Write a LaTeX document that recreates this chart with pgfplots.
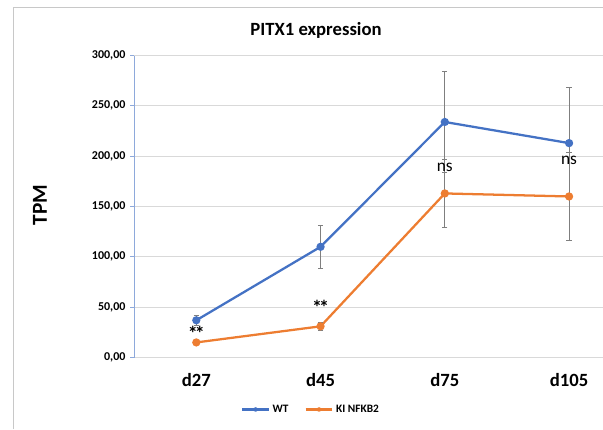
\documentclass[border=0pt]{standalone}
\usepackage{pgfplots}
\pgfplotsset{compat=1.18}
\usepackage{fontspec}
\setmainfont{Carlito}
\definecolor{wtblue}{HTML}{4472C4}
\definecolor{kiorange}{HTML}{ED7D31}
\definecolor{gridgray}{HTML}{D9D9D9}
\definecolor{axblue}{HTML}{8EA9DB}
\definecolor{errgray}{HTML}{7F7F7F}
\definecolor{framegray}{HTML}{C8C8C8}
\begin{document}
\begin{tikzpicture}[x=0.75pt,y=0.75pt]
\useasboundingbox (0,0) rectangle (603,429);
\draw[framegray,line width=0.75pt] (13,0) -- (13,421) -- (603,421);
\node[font=\bfseries\fontsize{14}{16}\selectfont] at (316,399) {PITX1 expression};
\node[font=\bfseries\fontsize{16}{18}\selectfont, rotate=90] at (40,224) {TPM};
\begin{axis}[
  at={(108,71)}, anchor=south west, scale only axis,
  width=372.75pt, height=226.5pt,
  xmin=-0.5, xmax=3.5, ymin=0, ymax=300,
  xtick={0,1,2,3}, xticklabels={d27,d45,d75,d105},
  ytick={0,50,100,150,200,250,300},
  major x tick style={draw=none},
  extra x ticks={0.5,1.5,2.5},
  extra x tick labels={},
  extra x tick style={grid=none, major tick length=4pt, tick style={gridgray, line width=0.8pt}, tick pos=bottom},
  ymajorgrids, grid style={gridgray, line width=0.8pt},
  axis x line*=bottom, axis y line*=left,
  x axis line style={gridgray, line width=0.8pt, -},
  y axis line style={axblue, line width=1pt, -},
  ytick style={axblue, line width=0.8pt},
  tick align=outside, major tick length=3pt,
  xtick pos=bottom, ytick pos=left,
  /pgf/number format/assume math mode=true,
  yticklabel style={font=\bfseries\fontsize{9}{10}\selectfont, /pgf/number format/.cd, fixed, fixed zerofill, precision=2, use comma, 1000 sep={}},
  xticklabel style={font=\bfseries\fontsize{14}{16}\selectfont, yshift=-5pt},
  legend style={at={(axis cs:0.926,-51.6)}, anchor=center, draw=none, fill=none, font=\bfseries\fontsize{8.5}{9}\selectfont, legend columns=2, /tikz/every even column/.append style={column sep=10pt}},
  legend image code/.code={\draw[#1] (0pt,0pt) -- (10pt,0pt) (20pt,0pt) -- (10pt,0pt); \fill[#1,draw=none] (10pt,0pt) circle (1.7pt);},
  clip=false,
]
\addplot[wtblue, line width=1.7pt, mark=*, mark size=2.2pt, mark options={solid},
  error bars/.cd, y dir=both, y explicit, error mark options={errgray, line width=0.6pt, rotate=90, mark size=2pt}, error bar style={errgray, line width=0.7pt}]
  coordinates {(0,37) +- (0,5) (1,110) +- (0,21) (2,234) +- (0,50) (3,213) +- (0,55)};
\addlegendentry{WT}
\addplot[kiorange, line width=1.7pt, mark=*, mark size=2.2pt, mark options={solid},
  error bars/.cd, y dir=both, y explicit, error mark options={errgray, line width=0.6pt, rotate=90, mark size=2pt}, error bar style={errgray, line width=0.7pt}]
  coordinates {(0,15) +- (0,1.5) (1,31) +- (0,4) (2,163) +- (0,34) (3,160) +- (0,44)};
\addlegendentry{KI NFKB2}
\node[font=\bfseries\fontsize{15}{15}\selectfont, inner sep=0pt] at (axis cs:0,24) {*\kern-2.2pt*};
\node[font=\bfseries\fontsize{15}{15}\selectfont, inner sep=0pt] at (axis cs:1,50) {*\kern-2.2pt*};
\node[font=\fontsize{13}{13}\selectfont] at (axis cs:2,189) {ns};
\node[font=\fontsize{13}{13}\selectfont] at (axis cs:3,196) {ns};
\end{axis}
\end{tikzpicture}
\end{document}
